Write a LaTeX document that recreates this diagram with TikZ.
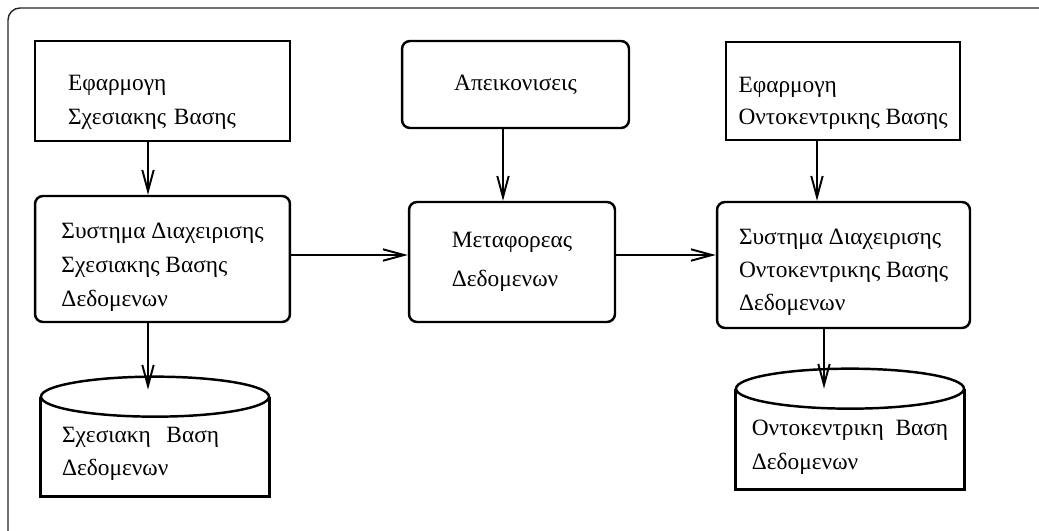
\documentclass[tikz,border=0pt]{standalone}
\usepackage{fontspec}
\setmainfont{Liberation Serif}
\usepackage{tikz}
\usetikzlibrary{arrows.meta,calc}

\begin{document}
\begin{tikzpicture}[x=0.02cm,y=-0.02cm,
    box/.style={draw, line width=1.4pt, align=left, font=\fontsize{13.3}{19.5}\selectfont},
    rbox/.style={box, rounded corners=0.16cm},
    dbase/.style={align=left, inner sep=0pt, font=\fontsize{13.3}{19}\selectfont},
    drop/.style={text height=#1},
    dbline/.style={line width=1.4pt},
    arr/.style={-{Straight Barb[length=12pt,width=6.5pt]}, line width=1.1pt}]
\useasboundingbox (0,0) rectangle (1039,531);

% Outer frame
\draw[line width=0.8pt, black!85, rounded corners=0.24cm] (8,531) -- (8,8) -- (1039,8);

% Relational side
\node[box, drop=21.5pt, minimum width=5.1cm, minimum height=2cm, inner xsep=0.66cm, text width=3.78cm] (relApp) at (162.5,91) {Εφαρμογη\\Σχεσιακης Βασης};
\node[rbox, drop=57pt, minimum width=5.1cm, minimum height=2.52cm] (relDbms) at (162.5,259) {Συστημα Διαχειρισης\\Σχεσιακης Βασης\\Δεδομενων};
\node[dbase, drop=17pt, minimum width=4.56cm, minimum height=1.98cm, inner xsep=0.42cm, text width=3.72cm] (relDb) at (155,446.5) {Σχεσιακη~~Βαση\\Δεδομενων};

% Middle
\node[rbox, minimum width=4.54cm, minimum height=1.74cm] (maps) at (515.5,84.5) {Απεικονισεις};
\node[rbox, font=\fontsize{13.3}{22.5}\selectfont, minimum width=4.12cm, minimum height=2.4cm] (mover) at (512,262) {Μεταφορεας\\Δεδομενων};

% Object side
\node[box, drop=41pt, font=\fontsize{13.3}{18.3}\selectfont, minimum width=4.68cm, minimum height=1.96cm] (objApp) at (843,91) {Εφαρμογη\\Οντοκεντρικης Βασης};
\node[rbox, drop=54.6pt, font=\fontsize{13.3}{18.8}\selectfont, minimum width=5.06cm, minimum height=2.52cm] (objDbms) at (843.5,265) {Συστημα Διαχειρισης\\Οντοκεντρικης Βασης\\Δεδομενων};
\node[dbase, drop=37pt, minimum width=4.56cm, minimum height=2cm] (objDb) at (850,439) {Οντοκεντρικη~~Βαση\\Δεδομενων};

% Cylinders
\foreach \db in {relDb, objDb} {
    \draw[dbline] (\db.north west) -- (\db.south west) -- (\db.south east) -- (\db.north east);
    \draw[dbline, fill=white] (\db.north) ellipse [x radius=114, y radius=20];
}

% Arrows
\coordinate (relTop) at ($(relDb.north)+(0,-7)$);
\foreach \s/\t/\x in {relApp/relDbms/148, maps/mover/503, objApp/objDbms/817} {
    \draw[arr] (\s.south -| \x,0) -- (\t.north -| \x,0);
}
\draw[arr] (relDbms.south -| 148,0) -- (relTop -| 148,0);
\draw[arr] (objDbms.south -| 824,0) -- (objDb.north -| 824,0);
\draw[arr] (relDbms.east |- 0,255) -- (mover.west |- 0,255);
\draw[arr] (mover.east |- 0,255) -- (objDbms.west |- 0,255);
\end{tikzpicture}
\end{document}
